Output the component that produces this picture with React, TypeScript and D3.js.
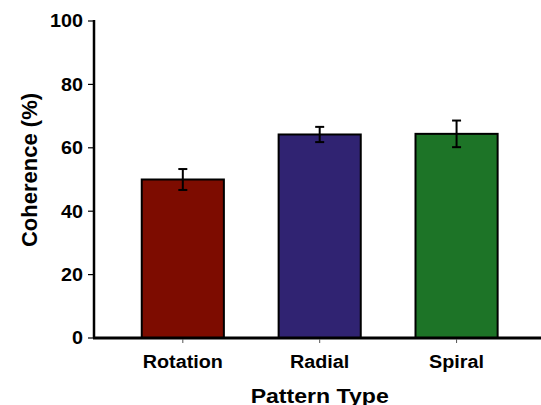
import React, { useEffect, useRef } from 'react';
import * as d3 from 'd3';

const categories = ['Rotation', 'Radial', 'Spiral'];
const means = [50.0, 64.2, 64.4];
const errors = [3.3, 2.4, 4.2];
const barColors = ['#7d0c00', '#302372', '#1d7427'];
const yTicks = [0, 20, 40, 60, 80, 100];

const App: React.FC = () => {
  const svgRef = useRef<SVGSVGElement>(null);

  useEffect(() => {
    if (!svgRef.current) return;
    const width = 541;
    const axisX = 94;
    const font = 'Liberation Sans, Arial, Helvetica, sans-serif';
    const stretch = 1.13;

    const svg = d3.select(svgRef.current);
    svg.selectAll('*').remove();

    const y = d3.scaleLinear().domain([0, 100]).range([338, 21]);
    const x = d3.scaleBand<string>()
      .domain(categories)
      .range([87, 497.7 + 0.4 * 136.7])
      .paddingInner(0.4)
      .paddingOuter(0.4);

    const rows = categories.map((c, i) => ({ c, m: means[i], e: errors[i], col: barColors[i] }));

    // Bars
    svg.append('g').selectAll('rect')
      .data(rows)
      .enter().append('rect')
      .attr('x', d => x(d.c)!)
      .attr('y', d => y(d.m))
      .attr('width', x.bandwidth())
      .attr('height', d => y(0) - y(d.m))
      .attr('fill', d => d.col)
      .attr('stroke', '#000')
      .attr('stroke-width', 2);

    // Error bars
    const eb = svg.append('g').selectAll('g')
      .data(rows)
      .enter().append('g')
      .attr('transform', d => `translate(${x(d.c)! + x.bandwidth() / 2},0)`);
    eb.append('line')
      .attr('y1', d => y(d.m + d.e)).attr('y2', d => y(d.m - d.e))
      .attr('stroke', '#000').attr('stroke-width', 2);
    eb.append('line')
      .attr('x1', -4.5).attr('x2', 4.5)
      .attr('y1', d => y(d.m + d.e)).attr('y2', d => y(d.m + d.e))
      .attr('stroke', '#000').attr('stroke-width', 2);
    eb.append('line')
      .attr('x1', -4.5).attr('x2', 4.5)
      .attr('y1', d => y(d.m - d.e)).attr('y2', d => y(d.m - d.e))
      .attr('stroke', '#000').attr('stroke-width', 2);

    // Y axis
    svg.append('line')
      .attr('x1', axisX).attr('x2', axisX)
      .attr('y1', y(100) - 1).attr('y2', y(0))
      .attr('stroke', '#000').attr('stroke-width', 2.5);
    const yt = svg.append('g').selectAll('g')
      .data(yTicks)
      .enter().append('g')
      .attr('transform', d => `translate(0,${y(d)})`);
    yt.append('line')
      .attr('x1', axisX - 6).attr('x2', axisX)
      .attr('stroke', '#000').attr('stroke-width', 1.2);
    yt.append('text')
      .attr('transform', `translate(83,0) scale(${stretch},1)`)
      .attr('dy', '0.36em')
      .attr('text-anchor', 'end')
      .style('font-family', font)
      .style('font-weight', 'bold')
      .style('font-size', '17.5px')
      .text(d => String(d));

    // X axis
    svg.append('line')
      .attr('x1', axisX - 1).attr('x2', width)
      .attr('y1', y(0)).attr('y2', y(0))
      .attr('stroke', '#000').attr('stroke-width', 3);
    const xt = svg.append('g').selectAll('g')
      .data(categories)
      .enter().append('g')
      .attr('transform', d => `translate(${x(d)! + x.bandwidth() / 2},0)`);
    xt.append('line')
      .attr('y1', y(0) + 1).attr('y2', y(0) + 5)
      .attr('stroke', '#555').attr('stroke-width', 1);
    xt.append('text')
      .attr('transform', `translate(0,368) scale(${stretch},1)`)
      .attr('text-anchor', 'middle')
      .style('font-family', font)
      .style('font-weight', 'bold')
      .style('font-size', '17.5px')
      .text(d => d);

    // Axis titles
    svg.append('text')
      .attr('transform', `translate(${x('Radial')! + x.bandwidth() / 2},403) scale(1.1,1)`)
      .attr('text-anchor', 'middle')
      .style('font-family', font)
      .style('font-weight', 'bold')
      .style('font-size', '21px')
      .text('Pattern Type');

    svg.append('text')
      .attr('transform', `translate(37,170) rotate(-90)`)
      .attr('text-anchor', 'middle')
      .style('font-family', font)
      .style('font-weight', 'bold')
      .style('font-size', '22px')
      .text('Coherence (%)');
  }, []);

  return (
    <svg
      ref={svgRef}
      width={541}
      height={405}
      viewBox="0 0 541 405"
      style={{ position: 'absolute', left: 0, top: 0, background: '#fff' }}
    />
  );
};

export default App;
